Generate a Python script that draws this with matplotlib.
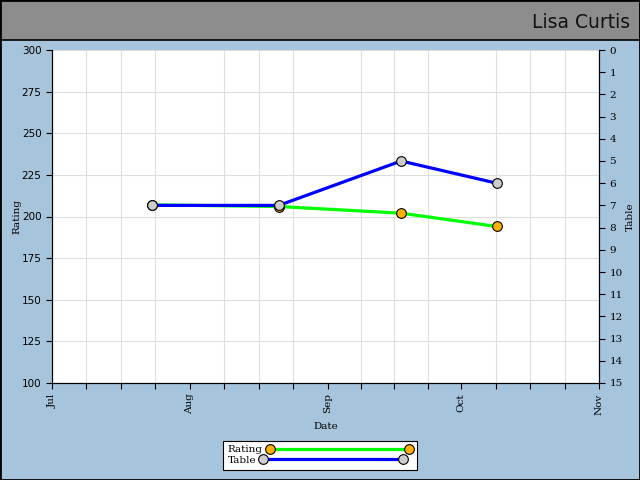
import matplotlib
matplotlib.use('Agg')
from matplotlib import pyplot as plt
import matplotlib.dates as mdates
from matplotlib.patches import Rectangle
import numpy as np
import datetime as dt

# data
dates = ['2008-07-23 12:00', '2008-08-21 00:00', '2008-09-17 12:00', '2008-10-09 00:00']
rating = [207, 206, 202, 194]
table = [7, 7, 5, 6]
months = ['2008-07-01', '2008-08-01', '2008-09-01', '2008-10-01', '2008-11-01']

bg = '#a6c4dc'
x = [dt.datetime.strptime(d, '%Y-%m-%d %H:%M') for d in dates]
mx = [mdates.date2num(dt.datetime.strptime(m, '%Y-%m-%d')) for m in months]

fig = plt.figure(figsize=(6.4, 4.8), dpi=100, facecolor=bg)

# title bar
fig.patches.append(Rectangle((0, 1 - 40 / 480), 1, 40 / 480, transform=fig.transFigure,
                             facecolor='#8c8c8c', edgecolor='black', lw=1.2, zorder=0))
fig.patches.append(Rectangle((0, 0), 1, 1, transform=fig.transFigure, fill=False,
                             edgecolor='black', lw=2, zorder=5))
fig.text(0.984, 0.953, 'Lisa Curtis', ha='right', va='center', fontsize=13.5,
         family='DejaVu Sans', color='#111111')

ax = fig.add_axes([52 / 640, 1 - 383 / 480, 547 / 640, 333 / 480])
ax.set_facecolor('white')

# quarter-month ticks
minor = []
for a, b in zip(mx[:-1], mx[1:]):
    minor += list(np.linspace(a, b, 5)[:-1])
minor.append(mx[-1])

ax.set_xlim(mx[0], mx[-1])
ax.set_ylim(100, 300)
ax.set_xticks(minor, minor=True)
ax.set_xticks(mx)
ax.set_xticklabels([mdates.num2date(m).strftime('%b') for m in mx], rotation=90,
                   family='DejaVu Serif', fontsize=7.5)
ax.set_yticks(np.arange(100, 301, 25))
for lab in ax.get_yticklabels():
    lab.set_fontsize(7.5)
ax.grid(True, which='minor', axis='x', color='#dddddd', lw=0.8)
ax.grid(True, which='major', axis='y', color='#dddddd', lw=0.8)
ax.tick_params(which='both', direction='out', length=4, width=0.8, top=False)
ax.spines['top'].set_visible(False)
ax.set_axisbelow(True)
ax.set_xlabel('Date', family='DejaVu Serif', fontsize=7.5, labelpad=5)
ax.set_ylabel('Rating', family='DejaVu Serif', fontsize=7.5, labelpad=0)

l1, = ax.plot(x, rating, color='#00ff00', lw=2.3, marker='o', markersize=7,
              markerfacecolor='#ffb000', markeredgecolor='black', markeredgewidth=0.8)

ax2 = ax.twinx()
ax2.set_ylim(15, 0)
ax2.set_yticks(range(0, 16))
for lab in ax2.get_yticklabels():
    lab.set_fontsize(7.5)
    lab.set_family('DejaVu Serif')
ax2.tick_params(direction='out', length=4, width=0.8)
ax2.spines['top'].set_visible(False)
ax2.set_ylabel('Table', family='DejaVu Serif', fontsize=7.5, labelpad=2)

l2, = ax2.plot(x, table, color='#0000ff', lw=2.3, marker='o', markersize=7,
               markerfacecolor='#cccccc', markeredgecolor='black', markeredgewidth=0.8)

leg = fig.legend([l1, l2], ['Rating', 'Table'], loc='center', bbox_to_anchor=(320 / 640, 1 - 455 / 480),
                 numpoints=2, handlelength=14, fancybox=False, edgecolor='black', framealpha=1,
                 prop={'family': 'DejaVu Serif', 'size': 7.5}, borderpad=0.45, labelspacing=0.1,
                 handletextpad=0.4, markerfirst=False)
leg.get_frame().set_linewidth(0.8)
for col in leg._legend_handle_box.get_children():
    col.align = 'left'

fig.savefig('out.png', dpi=100, facecolor=bg)
